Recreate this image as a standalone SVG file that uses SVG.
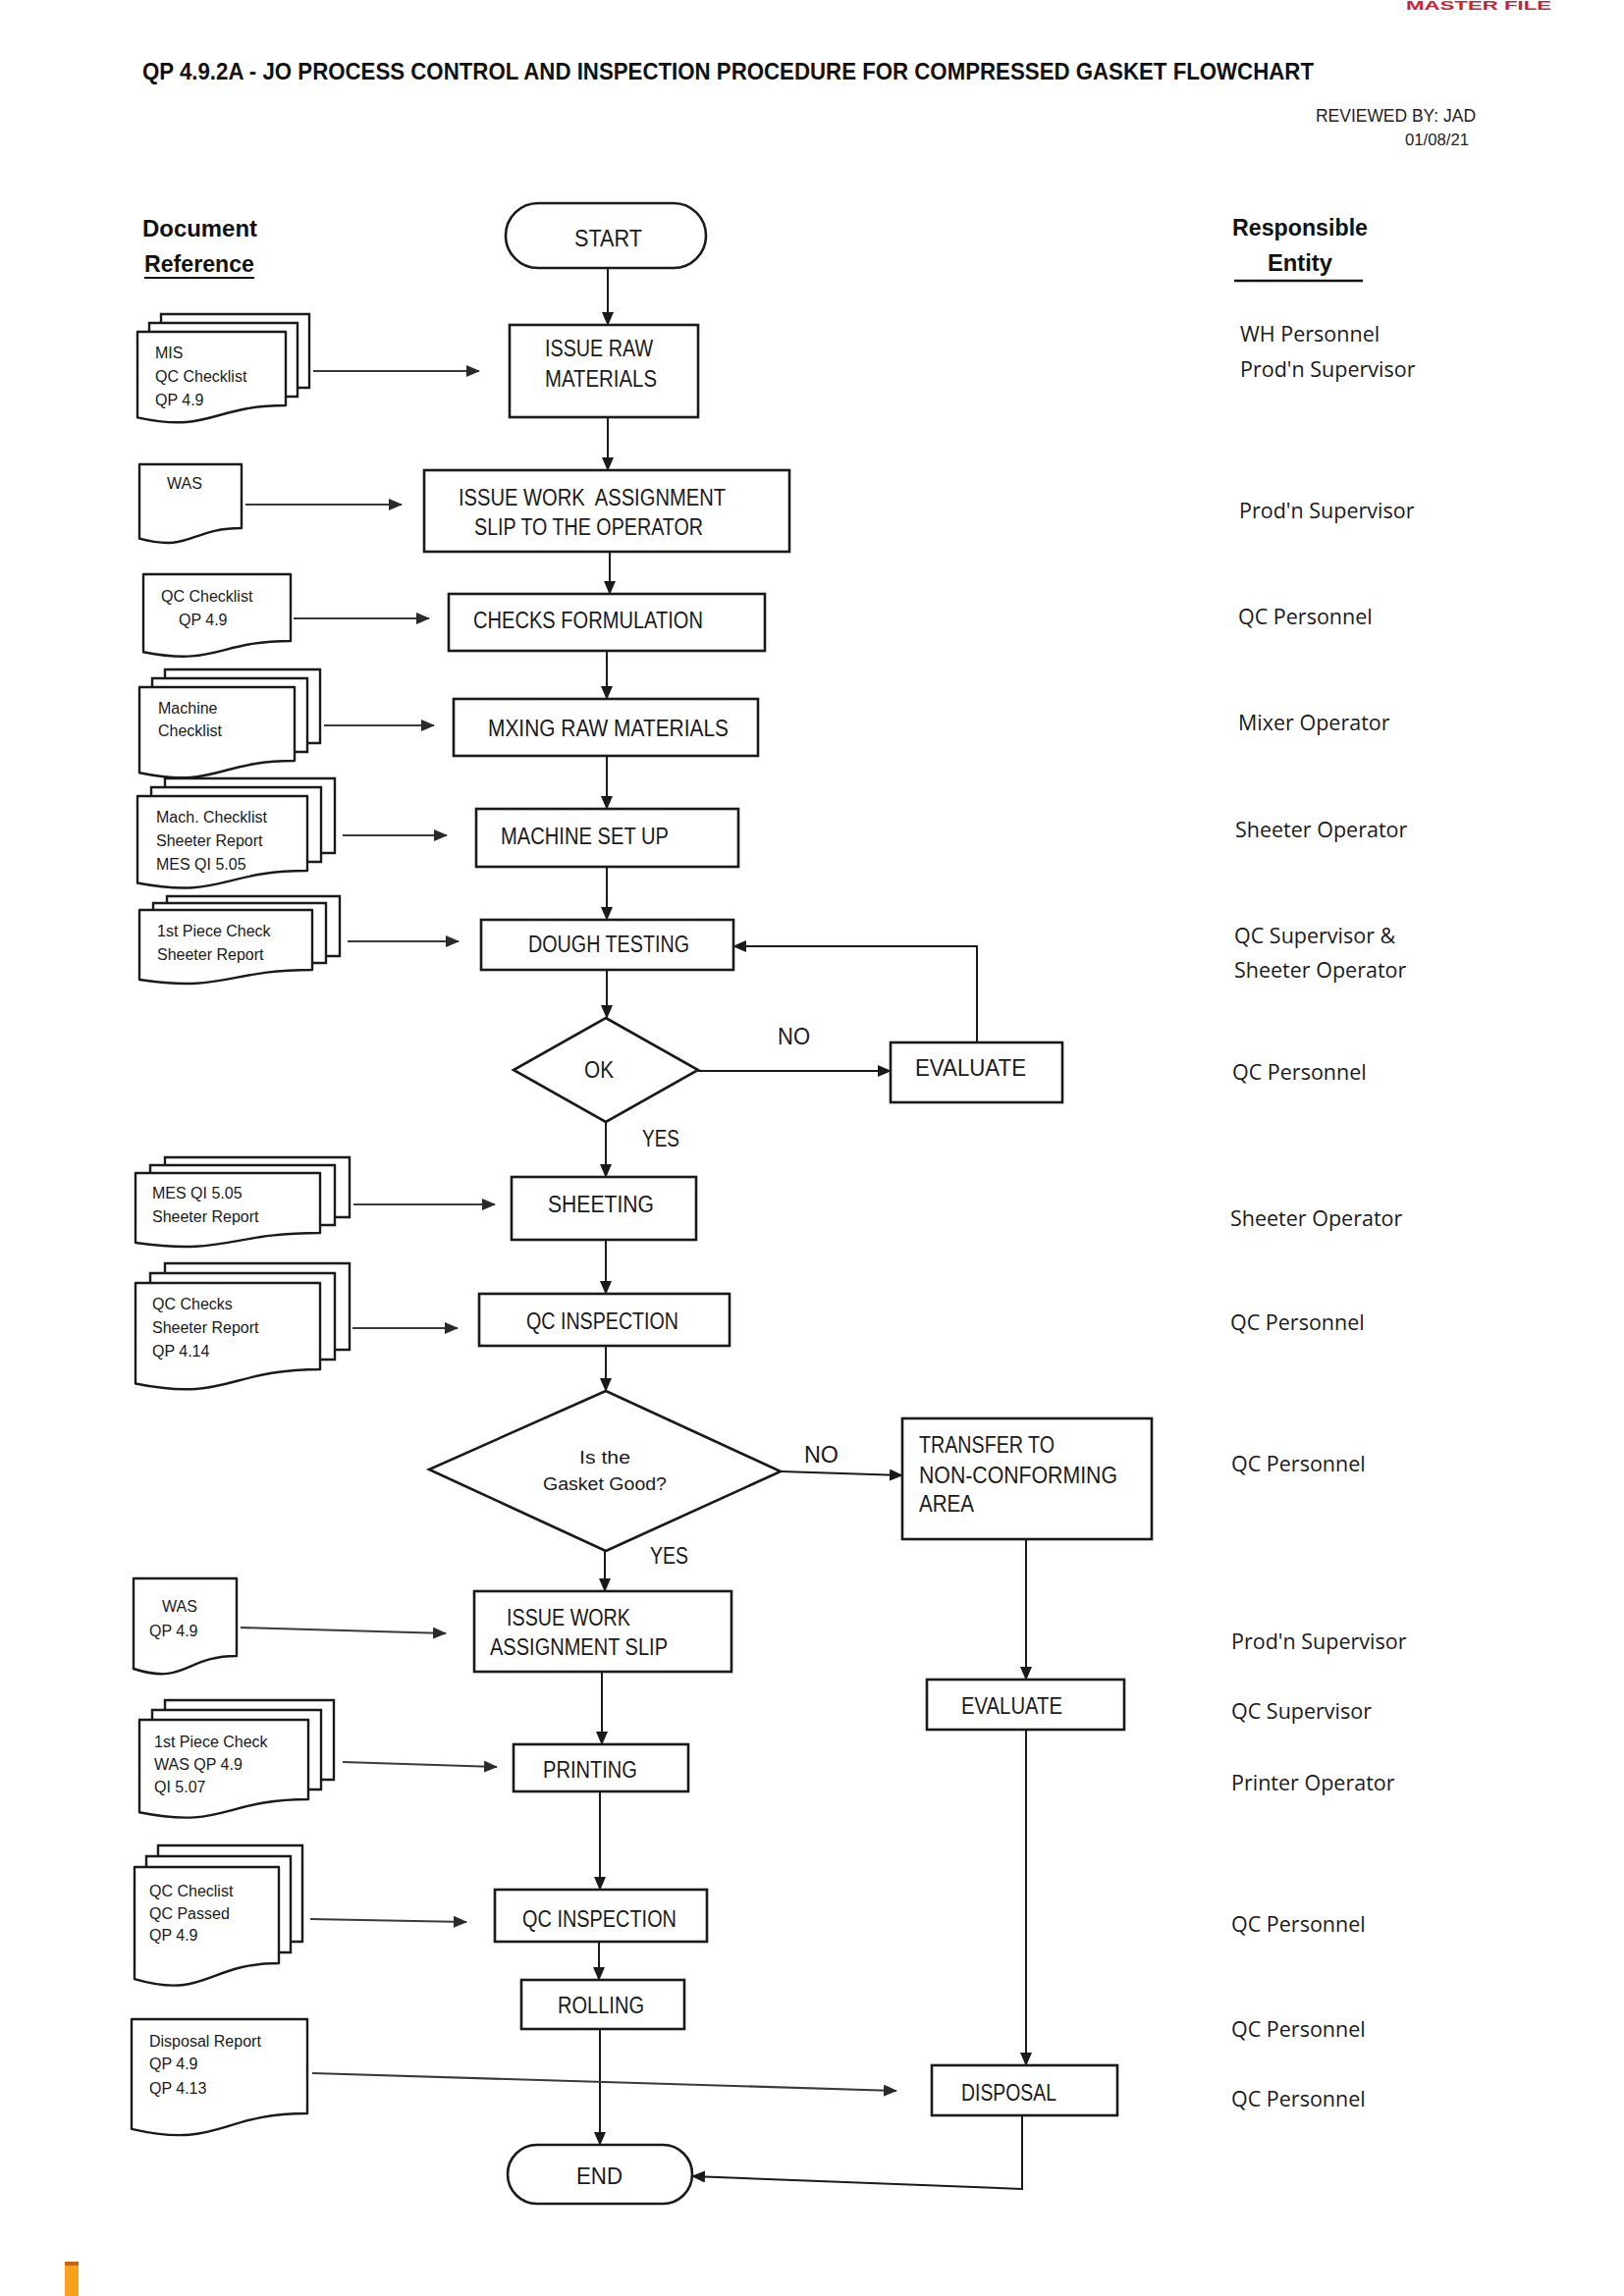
<svg xmlns="http://www.w3.org/2000/svg" width="1654" height="2339" viewBox="0 0 1654 2339">
<defs>
<marker id="ah" markerUnits="userSpaceOnUse" markerWidth="14" markerHeight="12" refX="13" refY="6" orient="auto">
<path d="M0,0 L14,6 L0,12 Z" fill="#1a1a1a"/>
</marker>
<marker id="ahg" markerUnits="userSpaceOnUse" markerWidth="14" markerHeight="12" refX="13" refY="6" orient="auto">
<path d="M0,0 L14,6 L0,12 Z" fill="#2a2a2a"/>
</marker>
</defs>
<style>
.box{fill:#fff;stroke:#1a1a1a;stroke-width:2.6}
.doc{fill:#fff;stroke:#1a1a1a;stroke-width:2.4;stroke-linejoin:round}
.sheet{fill:none;stroke:#1a1a1a;stroke-width:2.4}
.t{font-family:"Liberation Sans",Arial,sans-serif;font-size:23px;fill:#1a1a1a}
.sm{font-size:18px}
.dt{font-family:"Liberation Sans",Arial,sans-serif;font-size:16px;fill:#1a1a1a}
.rt{font-family:"Open Sans","Liberation Sans",sans-serif;font-size:21.5px;fill:#1a1a1a}
.hd{font-family:"Liberation Sans",Arial,sans-serif;font-weight:bold;fill:#111}
.conn{fill:none;stroke:#1a1a1a;stroke-width:2;marker-end:url(#ah)}
.dconn{fill:none;stroke:#3a3a3a;stroke-width:2.2;marker-end:url(#ahg)}
</style>
<rect x="0" y="0" width="1654" height="2339" fill="#fff"/>

<!-- header -->
<g id="header">
<text x="1432" y="10" font-family="Liberation Sans,Arial,sans-serif" font-weight="bold" font-size="12" fill="#cc2238" textLength="148" lengthAdjust="spacingAndGlyphs">MASTER FILE</text>
<text class="hd" x="145" y="81" font-size="24" textLength="1193" lengthAdjust="spacingAndGlyphs">QP 4.9.2A -  JO PROCESS CONTROL AND INSPECTION PROCEDURE FOR COMPRESSED GASKET FLOWCHART</text>
<text x="1503" y="124" text-anchor="end" font-family="Liberation Sans,Arial,sans-serif" font-size="18" fill="#222" textLength="163" lengthAdjust="spacingAndGlyphs">REVIEWED BY: JAD</text>
<text x="1496" y="148" text-anchor="end" font-family="Liberation Sans,Arial,sans-serif" font-size="17" fill="#222" textLength="65" lengthAdjust="spacingAndGlyphs">01/08/21</text>
<text class="hd" x="145" y="241" font-size="24" textLength="117" lengthAdjust="spacingAndGlyphs">Document</text>
<text class="hd" x="147" y="277" font-size="24" textLength="112" lengthAdjust="spacingAndGlyphs">Reference</text>
<line x1="147" y1="283" x2="259" y2="283" stroke="#111" stroke-width="2"/>
<text class="hd" x="1255" y="240" font-size="23" textLength="138" lengthAdjust="spacingAndGlyphs">Responsible</text>
<text class="hd" x="1291" y="276" font-size="23" textLength="66" lengthAdjust="spacingAndGlyphs">Entity</text>
<line x1="1257" y1="286" x2="1388" y2="286" stroke="#111" stroke-width="2.5"/>
</g>

<!-- responsible entities -->
<g id="responsible">
<text class="rt" x="1263" y="348">WH Personnel</text>
<text class="rt" x="1263" y="384">Prod'n Supervisor</text>
<text class="rt" x="1262" y="528">Prod'n Supervisor</text>
<text class="rt" x="1261" y="636">QC Personnel</text>
<text class="rt" x="1261" y="744">Mixer Operator</text>
<text class="rt" x="1258" y="853">Sheeter Operator</text>
<text class="rt" x="1257" y="961">QC Supervisor &amp;</text>
<text class="rt" x="1257" y="996">Sheeter Operator</text>
<text class="rt" x="1255" y="1100">QC Personnel</text>
<text class="rt" x="1253" y="1249">Sheeter Operator</text>
<text class="rt" x="1253" y="1355">QC Personnel</text>
<text class="rt" x="1254" y="1499">QC Personnel</text>
<text class="rt" x="1254" y="1680">Prod'n Supervisor</text>
<text class="rt" x="1254" y="1751">QC Supervisor</text>
<text class="rt" x="1254" y="1824">Printer Operator</text>
<text class="rt" x="1254" y="1968">QC Personnel</text>
<text class="rt" x="1254" y="2075">QC Personnel</text>
<text class="rt" x="1254" y="2146">QC Personnel</text>
</g>

<!-- document references -->
<g id="doc-mis">
<path class="sheet" d="M164 329 V320 H315 V395 H303"/>
<path class="sheet" d="M152 338 V329 H303 V404 H291"/>
<path class="doc" d="M140 338 H291 V413 C215.5 413 215.5 441.5 140 425.3 Z"/>
<text class="dt" x="158" y="365">MIS</text>
<text class="dt" x="158" y="389">QC Checklist</text>
<text class="dt" x="158" y="413">QP 4.9</text>
</g>
<g id="doc-was">
<path class="doc" d="M142 473 H246 V538 C194 538 194 562.7 142 548.7 Z"/>
<text class="dt" x="170" y="498">WAS</text>
</g>
<g id="doc-qcchecklist">
<path class="doc" d="M146 585 H296 V653 C221 653 221 678.9 146 664.2 Z"/>
<text class="dt" x="164" y="613">QC Checklist</text>
<text class="dt" x="182" y="637">QP 4.9</text>
</g>
<g id="doc-machine">
<path class="sheet" d="M168 691 V682 H326 V757 H313"/>
<path class="sheet" d="M155 700 V691 H313 V766 H300"/>
<path class="doc" d="M142 700 H300 V775 C221 775 221 803.5 142 787.3 Z"/>
<text class="dt" x="161" y="727">Machine</text>
<text class="dt" x="161" y="750">Checklist</text>
</g>
<g id="doc-mach">
<path class="sheet" d="M168 802 V793 H341 V869 H327"/>
<path class="sheet" d="M154 811 V802 H327 V878 H313"/>
<path class="doc" d="M140 811 H313 V887 C226.5 887 226.5 915.9 140 899.5 Z"/>
<text class="dt" x="159" y="838">Mach. Checklist</text>
<text class="dt" x="159" y="862">Sheeter Report</text>
<text class="dt" x="159" y="886">MES QI 5.05</text>
</g>
<g id="doc-firstpiece">
<path class="sheet" d="M170 920 V913 H346 V974 H332"/>
<path class="sheet" d="M156 927 V920 H332 V981 H318"/>
<path class="doc" d="M142 927 H318 V988 C230 988 230 1011.2 142 998 Z"/>
<text class="dt" x="160" y="954">1st Piece Check</text>
<text class="dt" x="160" y="978">Sheeter Report</text>
</g>
<g id="doc-mesqi">
<path class="sheet" d="M168 1187 V1179 H356 V1240 H341"/>
<path class="sheet" d="M153 1195 V1187 H341 V1248 H326"/>
<path class="doc" d="M138 1195 H326 V1256 C232 1256 232 1279.2 138 1266 Z"/>
<text class="dt" x="155" y="1221">MES QI 5.05</text>
<text class="dt" x="155" y="1245">Sheeter Report</text>
</g>
<g id="doc-qcchecks">
<path class="sheet" d="M168 1297 V1287 H356 V1375 H341"/>
<path class="sheet" d="M153 1307 V1297 H341 V1385 H326"/>
<path class="doc" d="M138 1307 H326 V1395 C232 1395 232 1428.5 138 1409.5 Z"/>
<text class="dt" x="155" y="1334">QC Checks</text>
<text class="dt" x="155" y="1358">Sheeter Report</text>
<text class="dt" x="155" y="1382">QP 4.14</text>
</g>
<g id="doc-was2">
<path class="doc" d="M136 1608 H241 V1687 C188.5 1687 188.5 1717 136 1700 Z"/>
<text class="dt" x="165" y="1642">WAS</text>
<text class="dt" x="152" y="1667">QP 4.9</text>
</g>
<g id="doc-firstpiece2">
<path class="sheet" d="M168 1742 V1732 H340 V1813 H327"/>
<path class="sheet" d="M155 1752 V1742 H327 V1823 H314"/>
<path class="doc" d="M142 1752 H314 V1833 C228 1833 228 1863.8 142 1846.3 Z"/>
<text class="dt" x="157" y="1780">1st Piece Check</text>
<text class="dt" x="157" y="1803">WAS QP 4.9</text>
<text class="dt" x="157" y="1826">QI 5.07</text>
</g>
<g id="doc-qcchecl">
<path class="sheet" d="M161 1891 V1880 H308 V1978 H296"/>
<path class="sheet" d="M149 1902 V1891 H296 V1989 H284"/>
<path class="doc" d="M137 1902 H284 V2000 C210.5 2000 210.5 2037.3 137 2016.1 Z"/>
<text class="dt" x="152" y="1932">QC Checlist</text>
<text class="dt" x="152" y="1955">QC Passed</text>
<text class="dt" x="152" y="1977">QP 4.9</text>
</g>
<g id="doc-disposal">
<path class="doc" d="M134 2057 H313 V2153 C223.5 2153 223.5 2189.5 134 2168.8 Z"/>
<text class="dt" x="152" y="2085">Disposal Report</text>
<text class="dt" x="152" y="2108">QP 4.9</text>
<text class="dt" x="152" y="2133">QP 4.13</text>
</g>

<!-- connectors -->
<g id="connectors">
<path class="conn" d="M619 273 V331"/>
<path class="conn" d="M619 425 V479"/>
<path class="conn" d="M621 562 V605"/>
<path class="conn" d="M618 663 V712"/>
<path class="conn" d="M618 770 V824"/>
<path class="conn" d="M618 883 V937"/>
<path class="conn" d="M618 988 V1037"/>
<path class="conn" d="M711 1091 H907"/>
<path class="conn" d="M995 1062 V964 H747"/>
<path class="conn" d="M617 1143 V1199"/>
<path class="conn" d="M617 1263 V1318"/>
<path class="conn" d="M617 1371 V1417"/>
<path class="conn" d="M795 1499 L919 1503"/>
<path class="conn" d="M616 1580 V1621"/>
<path class="conn" d="M613 1703 V1777"/>
<path class="conn" d="M611 1825 V1925"/>
<path class="conn" d="M610 1978 V2017"/>
<path class="conn" d="M611 2067 V2185"/>
<path class="conn" d="M1045 1568 V1711"/>
<path class="conn" d="M1045 1762 V2104"/>
<path class="conn" d="M1041 2155 V2230 L705 2217"/>
<path class="dconn" d="M319 378 H488"/>
<path class="dconn" d="M250 514 H409"/>
<path class="dconn" d="M299 630 H437"/>
<path class="dconn" d="M330 739 H442"/>
<path class="dconn" d="M349 851 H455"/>
<path class="dconn" d="M354 959 H467"/>
<path class="dconn" d="M360 1227 H504"/>
<path class="dconn" d="M359 1353 H466"/>
<path class="dconn" d="M245 1658 L454 1664"/>
<path class="dconn" d="M349 1795 L506 1800"/>
<path class="dconn" d="M316 1955 L475 1958"/>
<path class="dconn" d="M318 2112 L913 2130"/>
<text class="t" x="792" y="1064" textLength="33" lengthAdjust="spacingAndGlyphs">NO</text>
<text class="t" x="654" y="1168" textLength="38" lengthAdjust="spacingAndGlyphs">YES</text>
<text class="t" x="819" y="1490" textLength="35" lengthAdjust="spacingAndGlyphs">NO</text>
<text class="t" x="662" y="1593" textLength="39" lengthAdjust="spacingAndGlyphs">YES</text>
</g>

<!-- process nodes -->
<g id="n-start">
<rect class="box" x="515" y="207" width="204" height="66" rx="33"/>
<text class="t" x="585" y="251" textLength="69" lengthAdjust="spacingAndGlyphs">START</text>
</g>
<g id="n-issue-raw">
<rect class="box" x="519" y="331" width="192" height="94"/>
<text class="t" x="555" y="363" textLength="110" lengthAdjust="spacingAndGlyphs">ISSUE RAW</text>
<text class="t" x="555" y="394" textLength="114" lengthAdjust="spacingAndGlyphs">MATERIALS</text>
</g>
<g id="n-issue-was">
<rect class="box" x="432" y="479" width="372" height="83"/>
<text class="t" x="467" y="515" textLength="272" lengthAdjust="spacingAndGlyphs" xml:space="preserve">ISSUE WORK  ASSIGNMENT</text>
<text class="t" x="483" y="545" textLength="233" lengthAdjust="spacingAndGlyphs">SLIP TO THE OPERATOR</text>
</g>
<g id="n-checks">
<rect class="box" x="457" y="605" width="322" height="58"/>
<text class="t" x="482" y="640" textLength="234" lengthAdjust="spacingAndGlyphs">CHECKS FORMULATION</text>
</g>
<g id="n-mixing">
<rect class="box" x="462" y="712" width="310" height="58"/>
<text class="t" x="497" y="750" textLength="245" lengthAdjust="spacingAndGlyphs">MXING RAW MATERIALS</text>
</g>
<g id="n-setup">
<rect class="box" x="485" y="824" width="267" height="59"/>
<text class="t" x="510" y="860" textLength="171" lengthAdjust="spacingAndGlyphs">MACHINE SET UP</text>
</g>
<g id="n-dough">
<rect class="box" x="490" y="937" width="257" height="51"/>
<text class="t" x="538" y="970" textLength="164" lengthAdjust="spacingAndGlyphs">DOUGH TESTING</text>
</g>
<g id="n-ok">
<path class="box" d="M617 1037 L711 1090 L617 1143 L523 1090 Z"/>
<text class="t" x="595" y="1098" textLength="30" lengthAdjust="spacingAndGlyphs">OK</text>
</g>
<g id="n-evaluate1">
<rect class="box" x="907" y="1062" width="175" height="61"/>
<text class="t" x="932" y="1096" textLength="113" lengthAdjust="spacingAndGlyphs">EVALUATE</text>
</g>
<g id="n-sheeting">
<rect class="box" x="521" y="1199" width="188" height="64"/>
<text class="t" x="558" y="1235" textLength="108" lengthAdjust="spacingAndGlyphs">SHEETING</text>
</g>
<g id="n-qcinsp1">
<rect class="box" x="488" y="1318" width="255" height="53"/>
<text class="t" x="536" y="1354" textLength="155" lengthAdjust="spacingAndGlyphs">QC INSPECTION</text>
</g>
<g id="n-gasket">
<path class="box" d="M617 1417 L795 1499 L617 1580 L437 1497 Z"/>
<text class="t sm" x="590" y="1491" textLength="52" lengthAdjust="spacingAndGlyphs">Is the</text>
<text class="t sm" x="553" y="1518" textLength="126" lengthAdjust="spacingAndGlyphs">Gasket Good?</text>
</g>
<g id="n-transfer">
<rect class="box" x="919" y="1445" width="254" height="123"/>
<text class="t" x="936" y="1480" textLength="138" lengthAdjust="spacingAndGlyphs">TRANSFER TO</text>
<text class="t" x="936" y="1511" textLength="202" lengthAdjust="spacingAndGlyphs">NON-CONFORMING</text>
<text class="t" x="936" y="1540" textLength="56" lengthAdjust="spacingAndGlyphs">AREA</text>
</g>
<g id="n-issue-was2">
<rect class="box" x="483" y="1621" width="262" height="82"/>
<text class="t" x="516" y="1656" textLength="126" lengthAdjust="spacingAndGlyphs">ISSUE WORK</text>
<text class="t" x="499" y="1686" textLength="181" lengthAdjust="spacingAndGlyphs">ASSIGNMENT SLIP</text>
</g>
<g id="n-evaluate2">
<rect class="box" x="944" y="1711" width="201" height="51"/>
<text class="t" x="979" y="1746" textLength="103" lengthAdjust="spacingAndGlyphs">EVALUATE</text>
</g>
<g id="n-printing">
<rect class="box" x="523" y="1777" width="178" height="48"/>
<text class="t" x="553" y="1811" textLength="96" lengthAdjust="spacingAndGlyphs">PRINTING</text>
</g>
<g id="n-qcinsp2">
<rect class="box" x="504" y="1925" width="216" height="53"/>
<text class="t" x="532" y="1963" textLength="157" lengthAdjust="spacingAndGlyphs">QC INSPECTION</text>
</g>
<g id="n-rolling">
<rect class="box" x="531" y="2017" width="166" height="50"/>
<text class="t" x="568" y="2051" textLength="88" lengthAdjust="spacingAndGlyphs">ROLLING</text>
</g>
<g id="n-disposal">
<rect class="box" x="949" y="2104" width="189" height="51"/>
<text class="t" x="979" y="2140" textLength="97" lengthAdjust="spacingAndGlyphs">DISPOSAL</text>
</g>
<g id="n-end">
<rect class="box" x="517" y="2185" width="188" height="60" rx="30"/>
<text class="t" x="587" y="2225" textLength="47" lengthAdjust="spacingAndGlyphs">END</text>
</g>

<!-- scan artifact -->
<rect x="66" y="2304" width="14" height="35" fill="#f6a21c"/>
<rect x="66" y="2304" width="14" height="4" fill="#c8641a"/>
</svg>
